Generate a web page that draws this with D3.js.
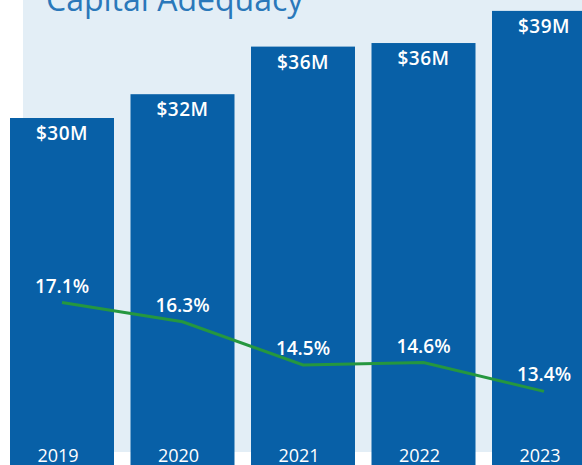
<!DOCTYPE html>
<html>
<head>
<meta charset="utf-8">
<script src="https://cdn.jsdelivr.net/npm/d3@7"></script>
<style>
  body { margin: 0; background: #fff; }
  svg { display: block; }
</style>
</head>
<body>
<script>
let width = 582,
  height = 465;

// data
const years = ['2019', '2020', '2021', '2022', '2023'];
const capital = [30.0, 32.0, 36.0, 36.3, 39.0];        // $M
const capitalLabels = ['$30M', '$32M', '$36M', '$36M', '$39M'];
const ratio = [17.1, 16.3, 14.5, 14.6, 13.4];          // %

let svg = d3.select('body').append('svg')
  .attr('width', width)
  .attr('height', height);

// light panel behind the chart
svg.append('rect')
  .attr('x', 23)
  .attr('y', 0)
  .attr('width', width - 23)
  .attr('height', 452)
  .attr('fill', '#e3eef6');

// title (cut off at the top)
svg.append('text')
  .attr('x', 46)
  .attr('y', 11)
  .attr('fill', '#2a78ba')
  .style('font-family', '"Open Sans", sans-serif')
  .style('font-size', '32px')
  .text('Capital Adequacy');

let xScale = d3.scaleBand()
  .domain(years)
  .range([10, 596])
  .paddingInner(0.137)
  .paddingOuter(0);

let yScale = d3.scaleLinear()
  .domain([0, 40])
  .range([475, -1]);

let pctScale = d3.scaleLinear()
  .domain([13, 18])
  .range([401, 281]);

let rows = years.map((y, i) => ({ year: y, cap: capital[i], capLabel: capitalLabels[i], pct: ratio[i] }));

// bars
svg.append('g')
  .selectAll('rect')
  .data(rows)
  .enter()
  .append('rect')
  .attr('x', d => xScale(d.year))
  .attr('y', d => yScale(d.cap))
  .attr('width', xScale.bandwidth())
  .attr('height', d => yScale(0) - yScale(d.cap))
  .attr('fill', '#0860a7');

// bar value labels
svg.append('g')
  .selectAll('text')
  .data(rows)
  .enter()
  .append('text')
  .attr('x', d => xScale(d.year) + xScale.bandwidth() / 2)
  .attr('y', d => yScale(d.cap) + 22)
  .attr('text-anchor', 'middle')
  .attr('fill', '#fff')
  .style('font-family', '"Open Sans", sans-serif')
  .style('font-weight', 600)
  .style('font-size', '19px')
  .style('letter-spacing', '0.5px')
  .text(d => d.capLabel);

// year labels along the bottom
svg.append('g')
  .selectAll('text')
  .data(rows)
  .enter()
  .append('text')
  .attr('x', d => xScale(d.year) + xScale.bandwidth() / 2 - 4)
  .attr('y', 462)
  .attr('text-anchor', 'middle')
  .attr('fill', '#fff')
  .style('font-family', '"Open Sans", sans-serif')
  .style('font-size', '18px')
  .text(d => d.year);

// ratio line
let line = d3.line()
  .x(d => xScale(d.year) + xScale.bandwidth() / 2)
  .y(d => pctScale(d.pct));

svg.append('path')
  .datum(rows)
  .attr('d', line)
  .attr('fill', 'none')
  .attr('stroke', '#25973f')
  .attr('stroke-width', 3);

svg.append('g')
  .selectAll('text')
  .data(rows)
  .enter()
  .append('text')
  .attr('x', d => xScale(d.year) + xScale.bandwidth() / 2)
  .attr('y', d => pctScale(d.pct) - 10)
  .attr('text-anchor', 'middle')
  .attr('fill', '#fff')
  .style('font-family', '"Open Sans", sans-serif')
  .style('font-weight', 600)
  .style('font-size', '19px')
  .text(d => d.pct.toFixed(1) + '%');
</script>
</body>
</html>
